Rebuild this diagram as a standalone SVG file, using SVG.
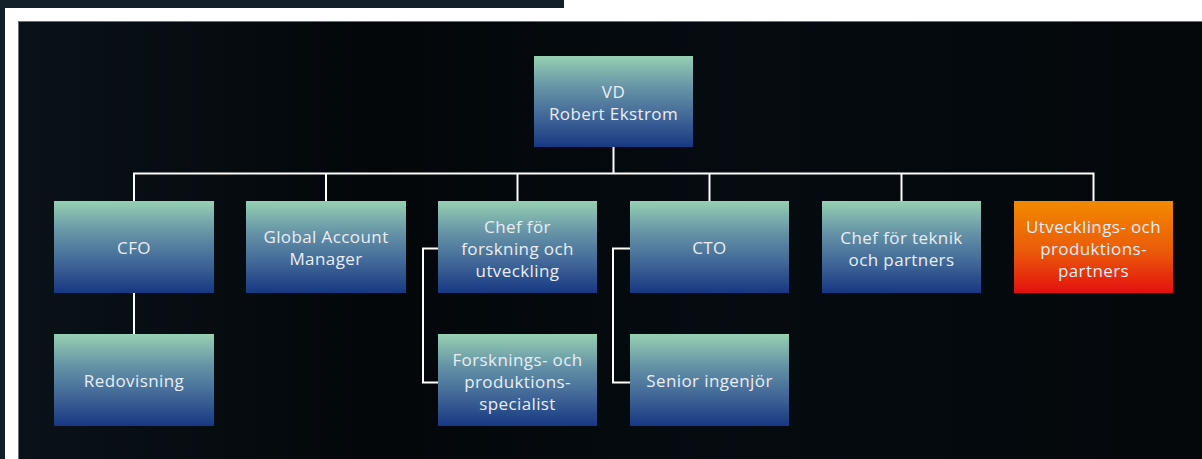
<svg xmlns="http://www.w3.org/2000/svg" width="1202" height="459" viewBox="0 0 1202 459">
<defs>
<linearGradient id="gBlue" x1="0" y1="0" x2="0" y2="1">
<stop offset="0" stop-color="#96d0b3"/>
<stop offset="0.35" stop-color="#6592a6"/>
<stop offset="0.7" stop-color="#3d6396"/>
<stop offset="1" stop-color="#173882"/>
</linearGradient>
<linearGradient id="gOrange" x1="0" y1="0" x2="0" y2="1">
<stop offset="0" stop-color="#f28a00"/>
<stop offset="0.55" stop-color="#ea5a0a"/>
<stop offset="1" stop-color="#e3100f"/>
</linearGradient>
<linearGradient id="gPanel" x1="0" y1="0" x2="1" y2="0">
<stop offset="0" stop-color="#0a1218"/>
<stop offset="0.3" stop-color="#03070a"/>
<stop offset="0.6" stop-color="#050b10"/>
<stop offset="1" stop-color="#04080b"/>
</linearGradient>
</defs>
<style>
.box{stroke:none}
.t{font-family:"Open Sans","Liberation Sans",sans-serif;font-size:17px;letter-spacing:0.4px;fill:#e9eef4;text-anchor:middle;dominant-baseline:central}
.c{fill:none;stroke:#ffffff;stroke-width:2}
</style>
<rect x="0" y="0" width="1202" height="459" fill="#ffffff"/>
<rect x="0" y="0" width="564" height="8" fill="#13202a"/>
<rect x="0" y="8" width="5" height="451" fill="#13202a"/>
<rect x="18" y="21" width="1184" height="438" fill="url(#gPanel)"/>
<path d="M18.5,459 V21.5 H1202" fill="none" stroke="#6b7077" stroke-width="1"/>
<g id="connectors">
<path class="c" d="M613.5,147 V173.5"/>
<path class="c" d="M134,201 V173.5 H1093.5 V201"/>
<path class="c" d="M326,173.5 V201"/>
<path class="c" d="M517.5,173.5 V201"/>
<path class="c" d="M709.5,173.5 V201"/>
<path class="c" d="M901.5,173.5 V201"/>
<path class="c" d="M134,293 V334"/>
<path class="c" d="M438,248.5 H423 V382.5 H438"/>
<path class="c" d="M630,248.5 H613 V382.5 H630"/>
</g>
<g id="vd"><rect class="box" x="534" y="56" width="159" height="91" fill="url(#gBlue)"/><text class="t" x="613.5" y="91">VD</text><text class="t" x="613.5" y="113">Robert Ekstrom</text></g>
<g id="cfo"><rect class="box" x="54" y="201" width="160" height="92" fill="url(#gBlue)"/><text class="t" x="134" y="247">CFO</text></g>
<g id="gam"><rect class="box" x="246" y="201" width="160" height="92" fill="url(#gBlue)"/><text class="t" x="326" y="236">Global Account</text><text class="t" x="326" y="258">Manager</text></g>
<g id="chef-fou"><rect class="box" x="438" y="201" width="159" height="92" fill="url(#gBlue)"/><text class="t" x="517.5" y="226">Chef för</text><text class="t" x="517.5" y="248">forskning och</text><text class="t" x="517.5" y="270">utveckling</text></g>
<g id="cto"><rect class="box" x="630" y="201" width="159" height="92" fill="url(#gBlue)"/><text class="t" x="709.5" y="247">CTO</text></g>
<g id="chef-teknik"><rect class="box" x="822" y="201" width="159" height="92" fill="url(#gBlue)"/><text class="t" x="901.5" y="237">Chef för teknik</text><text class="t" x="901.5" y="259">och partners</text></g>
<g id="partners"><rect class="box" x="1014" y="201" width="159" height="92" fill="url(#gOrange)"/><text class="t" x="1093.5" y="226">Utvecklings- och</text><text class="t" x="1093.5" y="248">produktions-</text><text class="t" x="1093.5" y="270">partners</text></g>
<g id="redovisning"><rect class="box" x="54" y="334" width="160" height="92" fill="url(#gBlue)"/><text class="t" x="134" y="380">Redovisning</text></g>
<g id="specialist"><rect class="box" x="438" y="334" width="159" height="92" fill="url(#gBlue)"/><text class="t" x="517.5" y="359">Forsknings- och</text><text class="t" x="517.5" y="381">produktions-</text><text class="t" x="517.5" y="403">specialist</text></g>
<g id="senior"><rect class="box" x="630" y="334" width="159" height="92" fill="url(#gBlue)"/><text class="t" x="709.5" y="380">Senior ingenjör</text></g>
</svg>
